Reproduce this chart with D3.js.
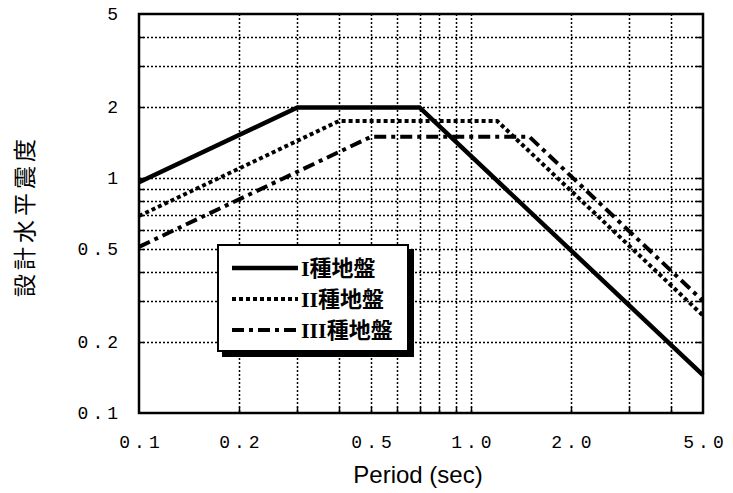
<!DOCTYPE html>
<html>
<head>
<meta charset="utf-8">
<script src="https://cdn.jsdelivr.net/npm/d3@7"></script>
<style>
  body { margin: 0; background: #fff; }
  svg { display: block; }
</style>
</head>
<body>
<div id="chart"></div>
<script>
// period (sec) / design horizontal seismic coefficient
var seriesNames = ["I種地盤", "II種地盤", "III種地盤"];
var periodI   = [0.1, 0.3, 0.7, 5.0];
var coefI     = [0.96, 2.0, 2.0, 0.145];
var periodII  = [0.1, 0.4, 1.2, 5.0];
var coefII    = [0.69, 1.75, 1.75, 0.26];
var periodIII = [0.1, 0.5, 1.5, 5.0];
var coefIII   = [0.51, 1.5, 1.5, 0.30];

var xTickValues = [0.1, 0.2, 0.5, 1.0, 2.0, 5.0];
var xTickLabels = ["0.1", "0.2", "0.5", "1.0", "2.0", "5.0"];
var yTickValues = [0.1, 0.2, 0.5, 1, 2, 5];
var yTickLabels = ["0.1", "0.2", "0.5", "1", "2", "5"];

function Chart() {
    var w = 733, h = 493;
    var left = 139, right = 703, top = 14, bottom = 413;

    var svg = d3.select("#chart").append("svg")
        .attr("width", w)
        .attr("height", h);

    var x = d3.scaleLog().domain([0.1, 5]).range([left, right]);
    var y = d3.scaleLog().domain([0.1, 5]).range([bottom, top]);

    // grid lines (log minor ticks, ends excluded)
    var xGrid = x.ticks().filter(function(d){ return d > 0.1 + 1e-9 && d < 5 - 1e-9; });
    var yGrid = y.ticks().filter(function(d){ return d > 0.1 + 1e-9 && d < 5 - 1e-9; });
    function px(v){ return Math.round(v) + 0.5; }

    svg.append("g").selectAll("line")
        .data(xGrid).enter().append("line")
        .attr("x1", function(d){ return px(x(d)); })
        .attr("x2", function(d){ return px(x(d)); })
        .attr("y1", top).attr("y2", bottom)
        .attr("stroke", "#000")
        .attr("stroke-width", 1.5)
        .attr("stroke-dasharray", "2,2");

    svg.append("g").selectAll("line")
        .data(yGrid).enter().append("line")
        .attr("y1", function(d){ return px(y(d)); })
        .attr("y2", function(d){ return px(y(d)); })
        .attr("x1", left).attr("x2", right)
        .attr("stroke", "#000")
        .attr("stroke-width", 1.5)
        .attr("stroke-dasharray", "2,2");

    // short solid inner ticks on left, bottom, right
    var tk = svg.append("g").attr("stroke", "#000").attr("stroke-width", 1.5);
    xGrid.forEach(function(d){
        tk.append("line").attr("x1", px(x(d))).attr("x2", px(x(d))).attr("y1", bottom).attr("y2", bottom - 6);
    });
    yGrid.forEach(function(d){
        tk.append("line").attr("y1", px(y(d))).attr("y2", px(y(d))).attr("x1", left).attr("x2", left + 5);
        tk.append("line").attr("y1", px(y(d))).attr("y2", px(y(d))).attr("x1", right).attr("x2", right - 7);
    });

    // curves
    var line = d3.line()
        .x(function(d){ return x(d[0]); })
        .y(function(d){ return y(d[1]); });

    var styles = [
        { dash: null,          width: 4.5 },
        { dash: "4,3",         width: 4 },
        { dash: "12,5,4,5",    width: 4 }
    ];
    var series = [
        d3.zip(periodI, coefI),
        d3.zip(periodII, coefII),
        d3.zip(periodIII, coefIII)
    ];

    svg.append("g").selectAll("path")
        .data(series).enter().append("path")
        .attr("d", line)
        .attr("fill", "none")
        .attr("stroke", "#000")
        .attr("stroke-width", function(d, i){ return styles[i].width; })
        .attr("stroke-dasharray", function(d, i){ return styles[i].dash; });

    // frame
    svg.append("rect")
        .attr("x", left).attr("y", top)
        .attr("width", right - left).attr("height", bottom - top)
        .attr("fill", "none")
        .attr("stroke", "#000")
        .attr("stroke-width", 2.5);

    // axes labels
    var xAxis = d3.axisBottom(x)
        .tickValues(xTickValues)
        .tickSize(0)
        .tickPadding(0)
        .tickFormat(function(d, i){ return xTickLabels[i]; });
    var gx = svg.append("g")
        .attr("transform", "translate(2," + (bottom + 35) + ")")
        .call(xAxis);
    gx.select(".domain").remove();
    gx.selectAll("text")
        .attr("dy", 0)
        .attr("fill", "#000")
        .style("font-family", "'Liberation Mono', 'DejaVu Sans Mono', monospace")
        .style("font-size", "18px")
        .style("letter-spacing", "4px");

    var yAxis = d3.axisLeft(y)
        .tickValues(yTickValues)
        .tickSize(0)
        .tickPadding(0)
        .tickFormat(function(d, i){ return yTickLabels[i]; });
    var gy = svg.append("g")
        .attr("transform", "translate(122,0)")
        .call(yAxis);
    gy.select(".domain").remove();
    gy.selectAll("text")
        .attr("dy", "0.3em")
        .attr("fill", "#000")
        .style("font-family", "'Liberation Mono', 'DejaVu Sans Mono', monospace")
        .style("font-size", "18px")
        .style("letter-spacing", "4px");

    svg.append("text")
        .attr("x", (left + right) / 2 - 3)
        .attr("y", 483)
        .attr("text-anchor", "middle")
        .style("font-family", "'Liberation Sans', Arial, sans-serif")
        .style("font-size", "24px")
        .text("Period (sec)");

    svg.append("text")
        .attr("transform", "translate(33,216) rotate(-90)")
        .attr("text-anchor", "middle")
        .style("font-family", "'Noto Sans CJK JP', sans-serif")
        .style("font-size", "23px")
        .style("letter-spacing", "4px")
        .text("設計水平震度");

    // legend
    var lg = svg.append("g");
    lg.append("rect")
        .attr("x", 222).attr("y", 249)
        .attr("width", 192).attr("height", 108)
        .attr("fill", "#000");
    lg.append("rect")
        .attr("x", 218).attr("y", 245)
        .attr("width", 190).attr("height", 106)
        .attr("fill", "#fff")
        .attr("stroke", "#000")
        .attr("stroke-width", 2);

    var rowY = [268, 299, 330];
    seriesNames.forEach(function(name, i){
        lg.append("line")
            .attr("x1", 232).attr("x2", 298)
            .attr("y1", rowY[i]).attr("y2", rowY[i])
            .attr("stroke", "#000")
            .attr("stroke-width", styles[i].width)
            .attr("stroke-dasharray", styles[i].dash);
        lg.append("text")
            .attr("x", 301)
            .attr("y", rowY[i] + 8)
            .style("font-family", "'Liberation Serif', 'Noto Sans CJK JP', serif")
            .style("font-size", "22px")
            .style("font-weight", "bold")
            .text(name);
    });
}

window.onload = Chart();
</script>
</body>
</html>
